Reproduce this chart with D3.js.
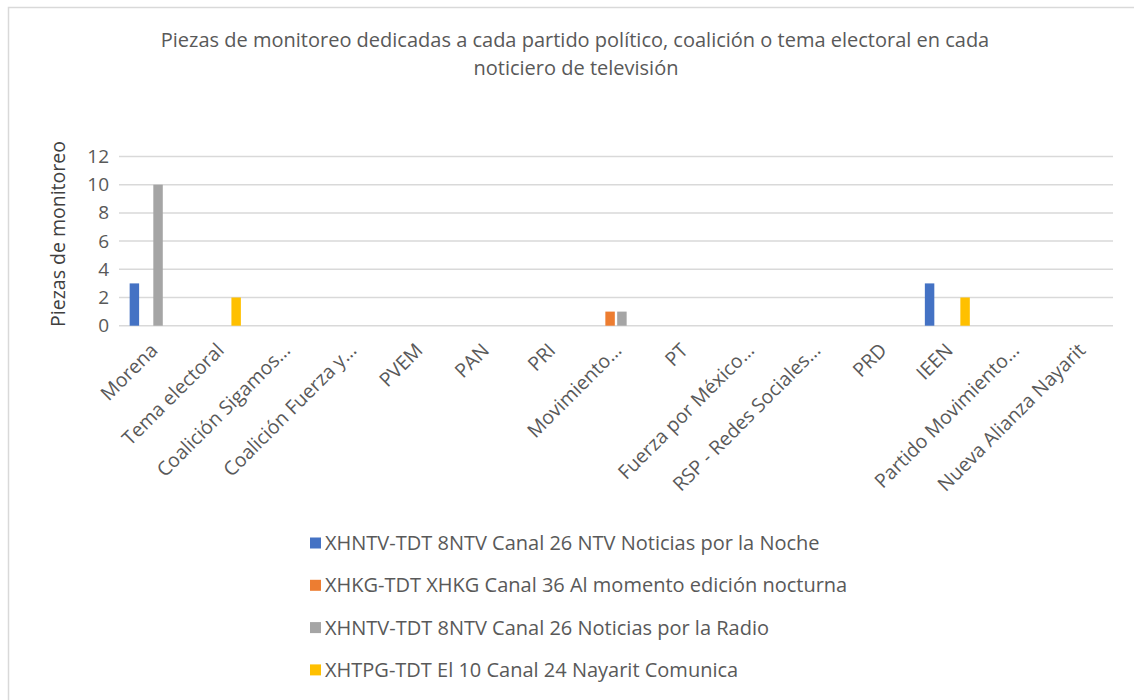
<!DOCTYPE html>
<html>
<head>
<meta charset="utf-8">
<script src="https://cdn.jsdelivr.net/npm/d3@7"></script>
<style>
  body { margin: 0; background: #fff; }
  svg { display: block; font-family: "Open Sans", "Segoe UI", sans-serif; }
</style>
</head>
<body>
<script>
// data
var categories = ["Morena", "Tema electoral", "Coalición Sigamos…", "Coalición Fuerza y…", "PVEM", "PAN", "PRI",
	"Movimiento…", "PT", "Fuerza por México…", "RSP - Redes Sociales…", "PRD", "IEEN", "Partido Movimiento…",
	"Nueva Alianza Nayarit"];
var seriesNames = ["XHNTV-TDT 8NTV Canal 26 NTV Noticias por la Noche",
	"XHKG-TDT XHKG Canal 36 Al momento edición nocturna",
	"XHNTV-TDT 8NTV Canal 26 Noticias por la Radio",
	"XHTPG-TDT El 10 Canal 24 Nayarit Comunica"];
var nocheValues  = [3, 0, 0, 0, 0, 0, 0, 0, 0, 0, 0, 0, 3, 0, 0];
var kgValues     = [0, 0, 0, 0, 0, 0, 0, 1, 0, 0, 0, 0, 0, 0, 0];
var radioValues  = [10, 0, 0, 0, 0, 0, 0, 1, 0, 0, 0, 0, 0, 0, 0];
var tpgValues    = [0, 2, 0, 0, 0, 0, 0, 0, 0, 0, 0, 0, 2, 0, 0];
var yTicks = [0, 2, 4, 6, 8, 10, 12];
var colors = ["#4472C4", "#ED7D31", "#A5A5A5", "#FFC000"];

var allSeries = [nocheValues, kgValues, radioValues, tpgValues];

var W = 1134, H = 700;
var textColor = "#595959";

var svg = d3.select("body").append("svg").attr("width", W).attr("height", H);

// chart frame (only left/top visible in picture)
svg.append("rect").attr("x", 8.5).attr("y", 7.5).attr("width", 1140).attr("height", 720)
	.attr("fill", "#fff").attr("stroke", "#d9d9d9").attr("stroke-width", 1.5);

// title
var title = svg.append("text").attr("text-anchor", "middle").attr("fill", textColor).style("font-size", "20px");
title.append("tspan").attr("x", 575).attr("y", 47)
	.text("Piezas de monitoreo dedicadas a cada partido político, coalición o tema electoral en cada");
title.append("tspan").attr("x", 576).attr("y", 75).text("noticiero de televisión");

// scales
var plot = {left: 119, right: 1113, top: 156.5, bottom: 325.7};

var x0 = d3.scaleBand().domain(categories).range([plot.left, plot.right]).padding(0);
var x1 = d3.scaleBand().domain(d3.range(seriesNames.length)).range([0, x0.bandwidth()])
	.paddingInner(0.2).paddingOuter(0.9);
var y = d3.scaleLinear().domain([0, 12]).range([plot.bottom, plot.top]);

// gridlines
svg.append("g").selectAll("line").data(yTicks).join("line")
	.attr("x1", plot.left).attr("x2", plot.right)
	.attr("y1", function(d){ return y(d); }).attr("y2", function(d){ return y(d); })
	.attr("stroke", "#d9d9d9").attr("stroke-width", 1.5);

// y axis labels
var yAxis = svg.append("g").attr("transform", "translate(" + (plot.left - 10) + ",0)")
	.call(d3.axisLeft(y).tickValues(yTicks).tickSize(0).tickPadding(0));
yAxis.select(".domain").remove();
yAxis.selectAll("text").attr("fill", textColor).style("font-size", "19px").style("font-family", "Open Sans");

// y axis title
svg.append("text").attr("transform", "translate(65,234) rotate(-90)")
	.attr("text-anchor", "middle").attr("fill", "#404040").style("font-size", "19.5px")
	.text("Piezas de monitoreo");

// bars
var groups = svg.append("g").selectAll("g").data(categories).join("g")
	.attr("transform", function(d){ return "translate(" + x0(d) + ",0)"; });

groups.selectAll("rect").data(function(d, i){
		return allSeries.map(function(s, k){ return {k: k, v: s[i]}; });
	}).join("rect")
	.attr("x", function(d){ return x1(d.k); })
	.attr("width", x1.bandwidth())
	.attr("y", function(d){ return y(d.v); })
	.attr("height", function(d){ return y(0) - y(d.v); })
	.attr("fill", function(d){ return colors[d.k]; });

// category labels
var xAxis = svg.append("g").attr("transform", "translate(0," + (plot.bottom + 8) + ")")
	.call(d3.axisBottom(x0).tickSize(0).tickPadding(0));
xAxis.select(".domain").remove();
xAxis.selectAll("text")
	.attr("fill", textColor).style("font-size", "19.5px").style("font-family", "Open Sans")
	.attr("text-anchor", "end")
	.attr("dy", "0.35em")
	.attr("transform", "translate(2,13) rotate(-45)");

// legend
var legend = svg.append("g").selectAll("g").data(seriesNames).join("g")
	.attr("transform", function(d, i){ return "translate(310," + (543 + i * 42.3) + ")"; });
legend.append("rect").attr("x", 0).attr("y", -5.5).attr("width", 11).attr("height", 11)
	.attr("fill", function(d, i){ return colors[i]; });
legend.append("text").attr("x", 15).attr("dy", "0.35em").attr("fill", textColor)
	.style("font-size", "20px").text(function(d){ return d; });
</script>
</body>
</html>
